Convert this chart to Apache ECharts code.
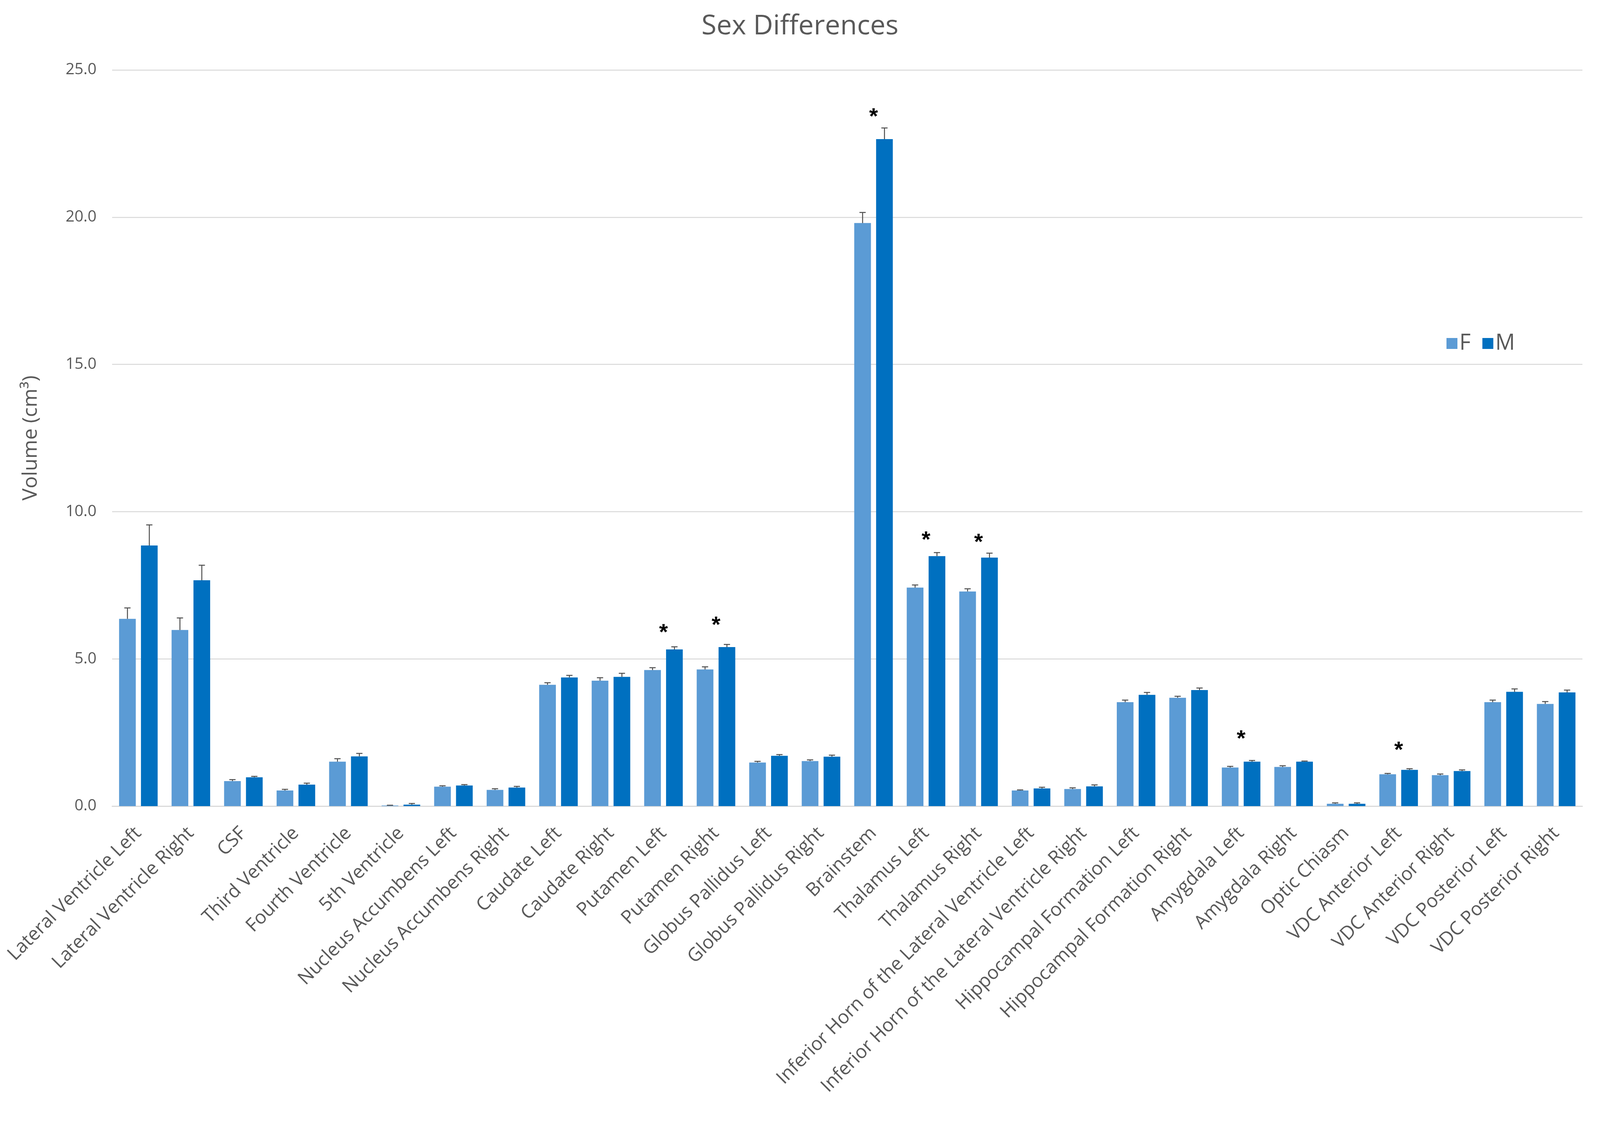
<!DOCTYPE html>
<html lang="en">
<head>
    <meta charset="UTF-8">
    <title>Sex Differences</title>
    <script src="https://cdn.jsdelivr.net/npm/echarts@6/dist/echarts.min.js"></script>
    <style>
        html, body { margin: 0; padding: 0; background: #fff; overflow: hidden; }
        #main { width: 100vw; height: 100vh; }
    </style>
</head>
<body>
<div id="main"></div>
<script type="text/javascript">
    // regions along the x axis
    var categories = [
        'Lateral Ventricle Left', 'Lateral Ventricle Right', 'CSF', 'Third Ventricle',
        'Fourth Ventricle', '5th Ventricle', 'Nucleus Accumbens Left', 'Nucleus Accumbens Right',
        'Caudate Left', 'Caudate Right', 'Putamen Left', 'Putamen Right',
        'Globus Pallidus Left', 'Globus Pallidus Right', 'Brainstem', 'Thalamus Left',
        'Thalamus Right', 'Inferior Horn of the Lateral Ventricle Left',
        'Inferior Horn of the Lateral Ventricle Right', 'Hippocampal Formation Left',
        'Hippocampal Formation Right', 'Amygdala Left', 'Amygdala Right', 'Optic Chiasm',
        'VDC Anterior Left', 'VDC Anterior Right', 'VDC Posterior Left', 'VDC Posterior Right'
    ];
    // mean volumes (cm3) and upper error (SE)
    var femaleMean = [6.36, 5.98, 0.85, 0.53, 1.51, 0.02, 0.66, 0.55, 4.12, 4.26, 4.62, 4.64, 1.48, 1.53,
        19.80, 7.42, 7.29, 0.53, 0.58, 3.53, 3.68, 1.31, 1.33, 0.08, 1.08, 1.05, 3.53, 3.47];
    var femaleErr = [0.37, 0.41, 0.05, 0.04, 0.10, 0.01, 0.03, 0.04, 0.07, 0.10, 0.08, 0.09, 0.04, 0.04,
        0.36, 0.09, 0.09, 0.02, 0.04, 0.07, 0.05, 0.04, 0.04, 0.03, 0.03, 0.04, 0.07, 0.08];
    var maleMean = [8.85, 7.67, 0.98, 0.73, 1.69, 0.05, 0.70, 0.63, 4.37, 4.39, 5.32, 5.40, 1.71, 1.68,
        22.65, 8.49, 8.44, 0.60, 0.67, 3.78, 3.94, 1.51, 1.51, 0.08, 1.23, 1.19, 3.88, 3.86];
    var maleErr = [0.70, 0.51, 0.03, 0.05, 0.10, 0.04, 0.03, 0.04, 0.07, 0.12, 0.09, 0.09, 0.04, 0.05,
        0.38, 0.12, 0.15, 0.04, 0.05, 0.08, 0.07, 0.04, 0.02, 0.03, 0.04, 0.04, 0.10, 0.08];
    // significant differences: region and height of the asterisk
    var sigRegions = ['Putamen Left', 'Putamen Right', 'Brainstem', 'Thalamus Left',
        'Thalamus Right', 'Amygdala Left', 'VDC Anterior Left'];
    var sigHeights = [6.02, 6.27, 23.54, 9.17, 9.09, 2.42, 2.03];
    var yTicks = [0, 5, 10, 15, 20, 25];

    var FONT = '"Open Sans", "Noto Sans", sans-serif';
    var TEXT = '#595959';
    var BAR_W = 0.318;   // bar width, share of category
    var BAR_GAP = 0.31;  // gap between F and M, share of bar width

    function errData(mean, err) {
        return mean.map(function (m, i) { return [i, m, +(m + err[i]).toFixed(3)]; });
    }

    function errRenderer(side) {
        return function (params, api) {
            var i = api.value(0);
            var base = api.coord([i, api.value(1)]);
            var top = api.coord([i, api.value(2)]);
            var cw = api.size([1, 0])[0];
            var bw = cw * BAR_W;
            var x = base[0] + side * (bw + bw * BAR_GAP) / 2;
            var cap = 8;
            var st = {stroke: '#4f4f4f', lineWidth: 2.5};
            return {
                type: 'group',
                children: [
                    {type: 'line', shape: {x1: x, y1: base[1], x2: x, y2: top[1]}, style: st},
                    {type: 'line', shape: {x1: x - cap, y1: top[1], x2: x + cap, y2: top[1]}, style: st}
                ]
            };
        };
    }

    var dom = document.getElementById('main');
    var myChart = echarts.init(dom);
    // horizontal layout follows the page width (reference is 4317 px wide)
    var W = dom.clientWidth;
    var sx = W / 4317;

    var option = {
        backgroundColor: '#ffffff',
        animation: false,
        title: {
            text: 'Sex Differences',
            left: 'center',
            top: 28,
            textStyle: {fontFamily: FONT, fontSize: 70, fontWeight: 'normal', color: TEXT}
        },
        legend: {
            data: ['F', 'M'],
            left: Math.round(3897 * sx),
            top: 846,
            icon: 'rect',
            itemWidth: 28,
            itemHeight: 28,
            itemGap: 30,
            textStyle: {fontFamily: FONT, fontSize: 56, color: TEXT}
        },
        grid: {left: Math.round(302 * sx), right: Math.round(47 * sx), top: 179, bottom: 811},
        xAxis: {
            type: 'category',
            data: categories,
            axisTick: {show: false},
            axisLine: {lineStyle: {color: '#d9d9d9', width: 2.5}},
            axisLabel: {
                interval: 0,
                rotate: 45,
                margin: 62,
                fontFamily: FONT,
                fontSize: 48,
                color: TEXT
            }
        },
        yAxis: {
            type: 'value',
            min: yTicks[0],
            max: yTicks[yTicks.length - 1],
            interval: 5,
            name: 'Volume (cm³)',
            nameLocation: 'middle',
            nameGap: Math.round((302 - 83) * sx - 26),
            nameTextStyle: {fontFamily: FONT, fontSize: 52, color: TEXT},
            axisLine: {show: false},
            axisTick: {show: false},
            splitLine: {lineStyle: {color: '#d9d9d9', width: 2.5}},
            axisLabel: {
                margin: 40,
                fontFamily: FONT,
                fontSize: 40,
                color: TEXT,
                formatter: function (v) { return v.toFixed(1); }
            }
        },
        series: [
            {
                name: 'F',
                type: 'bar',
                data: femaleMean,
                barWidth: (BAR_W * 100) + '%',
                barGap: (BAR_GAP * 100) + '%',
                itemStyle: {color: '#5b9bd5'}
            },
            {
                name: 'M',
                type: 'bar',
                data: maleMean,
                barWidth: (BAR_W * 100) + '%',
                barGap: (BAR_GAP * 100) + '%',
                itemStyle: {color: '#0070c0'}
            },
            {
                name: 'F err',
                type: 'custom',
                renderItem: errRenderer(-1),
                data: errData(femaleMean, femaleErr),
                encode: {x: 0, y: [1, 2]},
                z: 3
            },
            {
                name: 'M err',
                type: 'custom',
                renderItem: errRenderer(1),
                data: errData(maleMean, maleErr),
                encode: {x: 0, y: [1, 2]},
                z: 3
            },
            {
                name: 'sig',
                type: 'custom',
                data: sigRegions.map(function (r, k) { return [r, sigHeights[k]]; }),
                encode: {x: 0, y: 1},
                renderItem: function (params, api) {
                    var p = api.coord([api.value(0), api.value(1)]);
                    return {
                        type: 'text',
                        x: p[0],
                        y: p[1] + 12,
                        style: {
                            text: '*',
                            fontFamily: '"Liberation Sans", sans-serif',
                            fontWeight: 'bold',
                            fontSize: 58,
                            fill: '#000',
                            align: 'center',
                            verticalAlign: 'middle'
                        }
                    };
                },
                z: 4
            }
        ]
    };

    myChart.setOption(option);
</script>
</body>
</html>
